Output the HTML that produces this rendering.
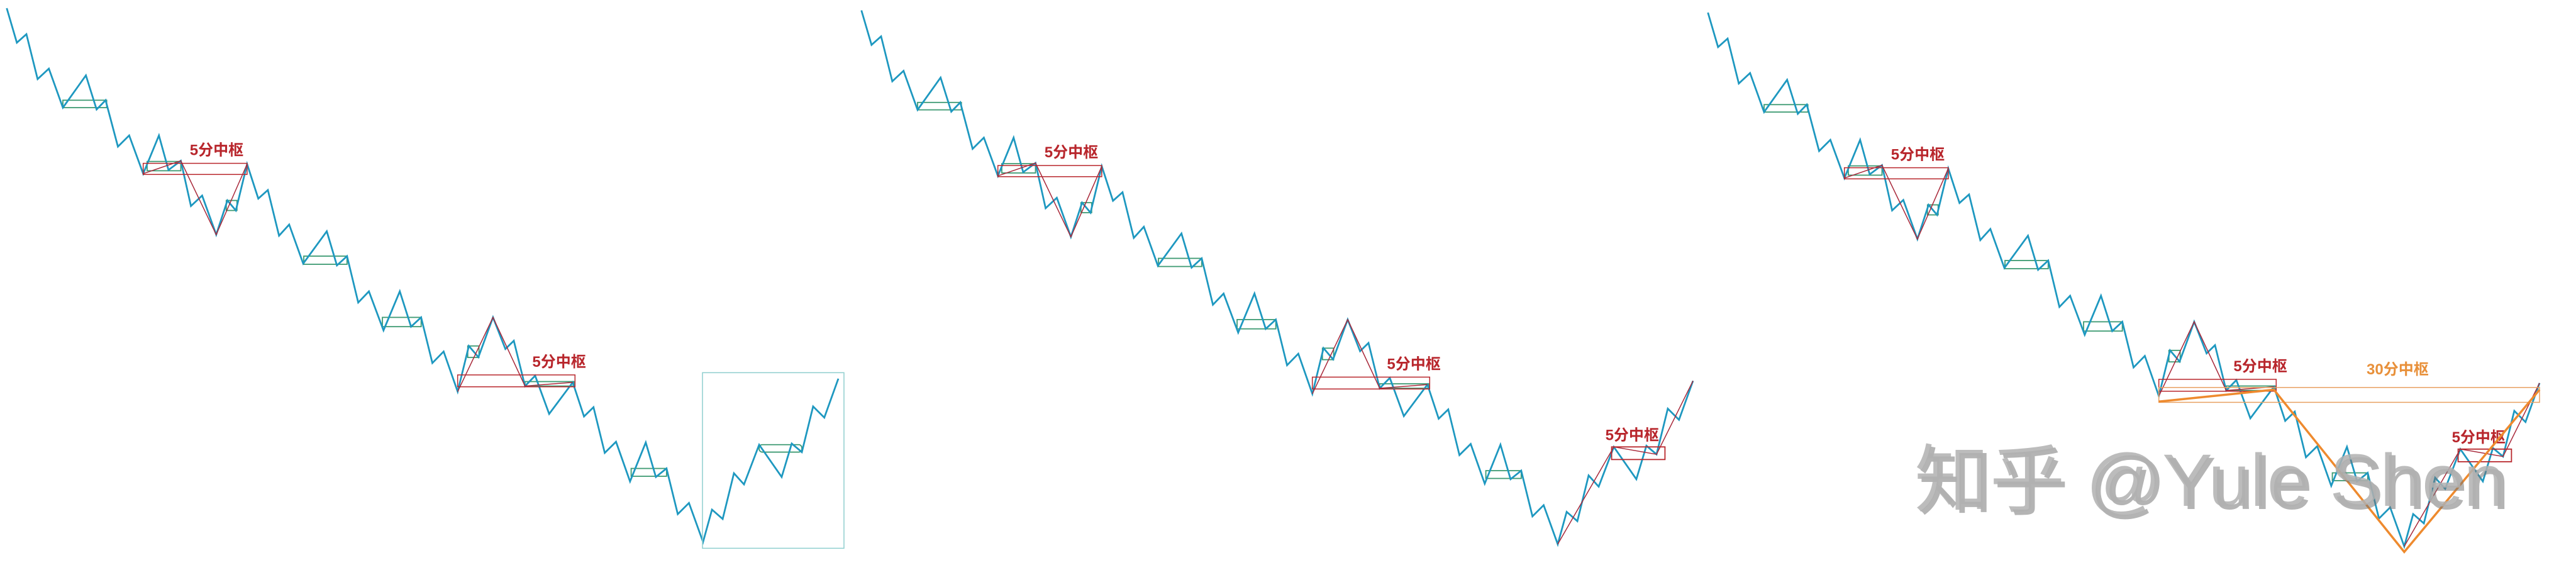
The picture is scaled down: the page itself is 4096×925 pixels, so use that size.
<!DOCTYPE html>
<html><head><meta charset="utf-8"><style>
html,body{margin:0;padding:0;background:#fff;overflow:hidden;}
svg{display:block;}
</style></head>
<body>
<svg id="chart" xmlns="http://www.w3.org/2000/svg" width="4096" height="925" viewBox="0 0 4096 925">
<rect x="0" y="0" width="4096" height="925" fill="#fff"/>
</svg>
<script>
// Price path (time units, price units)
const times = [12,30,47,67,87,112,153,172,188,210,230,255,283,300,322,340,360,385,405,420,440,460,477,497,515,540,582,600,618,638,657,683,712,732,750,770,790,815,835,852,878,900,915,935,953,978,1020,1040,1057,1077,1097,1122,1150,1168,1187,1207,1227,1252,1268,1287,1307,1325,1352,1392,1410,1428,1448,1468,1493];
const prices = [1478,1385,1408,1287,1315,1210,1297,1205,1230,1105,1135,1032,1135,1042,1067,945,973,868,960,933,1058,965,988,865,895,790,877,785,810,685,715,610,715,620,645,522,553,445,568,538,645,560,582,460,488,385,470,378,403,280,310,203,308,215,238,115,145,40,127,102,225,195,302,215,305,282,405,375,480];
// green sub-level hubs
const hubT0 = [112,262,403,541,681,833,935,1124];
const hubT1 = [190,322,422,618,750,853,1022,1187];
const hubHi = [1230,1065,960,810,645,568,472,238];
const hubLo = [1210,1040,933,788,620,537,460,217];
// 5-min hubs (red)
const redT0 = [255,815];
const redT1 = [440,1024];
const redHi = [1060,490];
const redLo = [1030,458];
const redLabels = ["5分中枢","5分中枢"];
const labelDT = [83,133];
// 5-min segments
const segA_T = [255,322,385,440];
const segA_P = [1032,1067,868,1058];
const segB_T = [815,878,935,1020];
const segB_P = [445,645,460,470];
// recovery segment (panels 2,3)
const segC_T = [1252,1352,1428,1493];
const segC_P = [40,302,282,480];
const hubC = [1348,1443,302,268];
// 30-min structure (panel 3)
const seg30_T = [815,1020,1252,1493];
const seg30_P = [430,462,25,462];
const hub30 = [815,1493,468,428];
// highlight window (panel 1)
const winBox = [1251,1503,496,23];

const SX = 1/1.12, SY = 1/1.695;
let P = {ox:0, oy:0};
function xScale(t){ return P.ox + t*SX; }
function yScale(p){ return P.oy + (1500 - p)*SY; }

const NS = "http://www.w3.org/2000/svg";
const svg = document.getElementById('chart');
function mk(tag, attrs, parent){
  const e = document.createElementNS(NS, tag);
  for (const k in attrs) e.setAttribute(k, attrs[k]);
  parent.appendChild(e);
  return e;
}
function pts(T,Pr){ return T.map((t,i)=>xScale(t).toFixed(1)+","+yScale(Pr[i]).toFixed(1)).join(" "); }
function box(t0,t1,hi,lo,attrs,g){
  const a = Object.assign({x:xScale(t0), y:yScale(hi), width:xScale(t1)-xScale(t0), height:yScale(lo)-yScale(hi), fill:'none'}, attrs);
  return mk('rect', a, g);
}
const FONT = '"Liberation Sans","Noto Sans CJK SC",sans-serif';

const panels = [{ox:0,oy:0},{ox:1359,oy:3.5},{ox:2705,oy:7}];
panels.forEach((pn, pi)=>{
  P = pn;
  const g = mk('g', {}, svg);
  
  

  hubT0.forEach((t0,i)=>{
    const r = box(t0, hubT1[i], hubHi[i], hubLo[i], {stroke:'#3d9a72','stroke-width':1.8}, g);
    
    
  });
  if (pi === 0) {
    const r = box(1352, 1428, 302, 282, {stroke:'#3d9a72','stroke-width':1.8, rx:5}, g);
    
    
  }
  const pl = mk('polyline', {points:pts(times,prices), fill:'none', stroke:'#1e98c0', 'stroke-width':2.8}, g);
  
  

  redT0.forEach((t0,i)=>{
    const r = box(t0, redT1[i], redHi[i], redLo[i], {stroke:'#b8262c','stroke-width':1.5}, g);
    
    
    const tx = mk('text', {x:xScale(t0+labelDT[i]), y:yScale(redHi[i])-13, 'font-size':24, fill:'#b8262c', 'font-family':FONT, 'font-weight':'bold'}, g);
    tx.textContent = redLabels[i];
    
    
  });
  [[segA_T,segA_P],[segB_T,segB_P]].forEach(s=>{
    const l = mk('polyline', {points:pts(s[0],s[1]), fill:'none', stroke:'#a8283a', 'stroke-width':1.5}, g);
    
    
  });

  if (pi === 0) {
    const b = box(winBox[0], winBox[1], winBox[2], winBox[3], {stroke:'#8fcfcf','stroke-width':1.5}, g);
    
    
  } else {
    const l = mk('polyline', {points:pts(segC_T,segC_P), fill:'none', stroke:'#a8283a', 'stroke-width':1.5}, g);
    
    
    const r = box(hubC[0], hubC[1], hubC[2], hubC[3], {stroke:'#b8262c','stroke-width':1.8}, g);
    
    
    const tx = mk('text', {x:xScale(hubC[0])-10, y:yScale(hubC[2])-11, 'font-size':24, fill:'#b8262c', 'font-family':FONT, 'font-weight':'bold'}, g);
    tx.textContent = '5分中枢';
    
    
  }
  if (pi === 2) {
    const r = box(hub30[0], hub30[1], hub30[2], hub30[3], {stroke:'#e8a060','stroke-width':1.5}, g);
    
    
    const tx = mk('text', {x:xScale(1185), y:yScale(hub30[2])-21, 'font-size':24, fill:'#e8903a', 'font-family':FONT, 'font-weight':'bold'}, g);
    tx.textContent = '30分中枢';
    
    
    const l = mk('polyline', {points:pts(seg30_T,seg30_P), fill:'none', stroke:'#ee8a2e', 'stroke-width':3.5}, g);
    
    
  }
});

// watermark with shadow
const wms = mk('text', {x:3050, y:809, 'font-size':118, fill:'#777', 'fill-opacity':0.55, 'font-family':FONT, textLength:940, lengthAdjust:'spacingAndGlyphs'}, svg);
wms.textContent = '知乎 @Yule Shen';


const wm = mk('text', {x:3044, y:804, 'font-size':118, fill:'#b0b0b0', 'fill-opacity':0.85, 'font-family':FONT, textLength:940, lengthAdjust:'spacingAndGlyphs'}, svg);
wm.textContent = '知乎 @Yule Shen';


</script>
</body></html>
